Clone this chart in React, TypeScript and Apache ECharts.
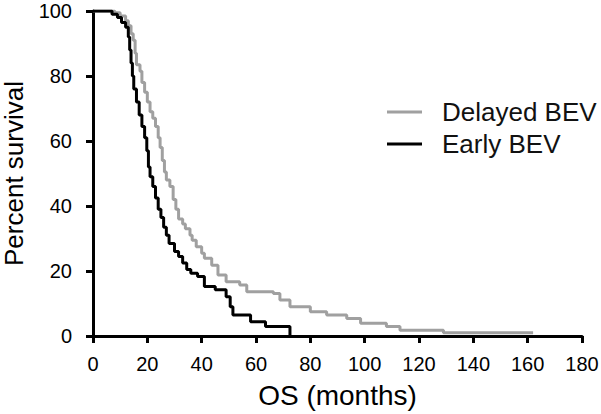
import React, { useEffect, useRef } from "react";
import * as echarts from "echarts";

const xTicks = [0, 20, 40, 60, 80, 100, 120, 140, 160, 180];
const yTicks = [0, 20, 40, 60, 80, 100];

const delayedMonths = [0, 8, 10, 12, 13, 14, 14.8, 15.5, 16, 17.3, 18, 19, 20, 21, 22, 23, 24, 24.7, 25.5, 26.3, 27, 28.3, 29.5, 30.5, 31.5, 33, 34, 35.7, 36.5, 38, 40, 41, 43.7, 46, 49, 54, 56.6, 66.4, 68.8, 72.5, 80, 86, 93.4, 98.5, 108, 113, 129, 162];
const delayedSurvival = [100, 99.5, 98.5, 97, 95.5, 93, 91, 87, 83.5, 81.5, 78, 75, 72, 69, 67, 64.5, 61, 58, 54, 50.5, 48, 46, 42, 39, 36, 34.5, 33, 31, 29.5, 27.5, 25.5, 23.9, 21.8, 18.8, 16.7, 15.7, 13.6, 13.1, 11.1, 9, 7.5, 6.5, 5.4, 3.9, 2.9, 1.8, 1.0, 1.0];

const earlyMonths = [0, 7, 9, 10.5, 12, 13, 13.5, 14, 14.5, 15, 16, 17, 18, 19, 19.8, 20.4, 21, 22, 23, 24, 25, 26, 27, 28, 30, 31.5, 33, 34.5, 36, 38.5, 41, 45, 49, 50.5, 51.5, 58, 63.5, 72.5];
const earlySurvival = [100, 99, 98, 96.5, 95, 92, 88, 84, 80, 76, 72, 68, 64.5, 61, 57, 52, 49, 46, 42.5, 39, 36.5, 33.5, 31, 28.5, 26, 24.5, 22.5, 20.5, 19.3, 18.3, 15.2, 14.2, 12.1, 9, 6.5, 4.4, 2.9, 0];

const seriesNames = ["Delayed BEV", "Early BEV"];

const FONT = "'Liberation Sans', Arial, Helvetica, sans-serif";

export default function App() {
  const ref = useRef<HTMLDivElement>(null);
  useEffect(() => {
    if (!ref.current) return;
    const chart = echarts.init(ref.current, undefined, { renderer: "svg" });
    const zip = (xs: number[], ys: number[]) => xs.map((x, i) => [x, ys[i]]);
    chart.setOption({
      animation: false,
      backgroundColor: "#ffffff",
      grid: { left: 93, right: 19, top: 11, bottom: 78, containLabel: false, outerBoundsMode: "none" },
      legend: {
        data: seriesNames,
        orient: "vertical",
        left: 387,
        top: 99,
        padding: 0,
        icon: "rect",
        itemWidth: 35,
        itemHeight: 3,
        itemGap: 6,
        textStyle: {
          fontFamily: FONT,
          fontSize: 26,
          lineHeight: 26,
          color: "#111",
          padding: [0, 0, 0, 15],
        },
      },
      xAxis: {
        type: "value",
        min: 0,
        max: 180,
        interval: 20,
        name: "OS (months)",
        nameLocation: "middle",
        nameGap: 45,
        nameTextStyle: { fontFamily: FONT, fontSize: 28, color: "#000" },
        axisLine: { lineStyle: { color: "#000", width: 3 } },
        axisTick: { length: 7, lineStyle: { color: "#000", width: 3 } },
        axisLabel: {
          fontFamily: FONT,
          fontSize: 20,
          color: "#000",
          margin: 18,
          formatter: (v: number) => (xTicks.includes(v) ? String(v) : ""),
        },
        splitLine: { show: false },
      },
      yAxis: {
        type: "value",
        min: 0,
        max: 100,
        interval: 20,
        name: "Percent survival",
        nameLocation: "middle",
        nameGap: 66,
        nameTextStyle: { fontFamily: FONT, fontSize: 26, lineHeight: 26, color: "#000" },
        axisLine: { show: true, lineStyle: { color: "#000", width: 3 } },
        axisTick: { show: true, length: 7, lineStyle: { color: "#000", width: 3 } },
        axisLabel: {
          fontFamily: FONT,
          fontSize: 20,
          color: "#000",
          margin: 21,
          formatter: (v: number) => (yTicks.includes(v) ? String(v) : ""),
        },
        splitLine: { show: false },
      },
      series: [
        {
          name: seriesNames[0],
          type: "line",
          step: "end",
          showSymbol: false,
          symbol: "none",
          data: zip(delayedMonths, delayedSurvival),
          lineStyle: { color: "#a0a0a0", width: 3 },
          itemStyle: { color: "#a0a0a0" },
          z: 2,
        },
        {
          name: seriesNames[1],
          type: "line",
          step: "end",
          showSymbol: false,
          symbol: "none",
          data: zip(earlyMonths, earlySurvival),
          lineStyle: { color: "#000000", width: 3 },
          itemStyle: { color: "#000000" },
          z: 3,
        },
      ],
    });
    return () => chart.dispose();
  }, []);
  return (
    <div
      ref={ref}
      style={{ position: "fixed", left: 0, top: 0, width: 601, height: 414 }}
    />
  );
}
